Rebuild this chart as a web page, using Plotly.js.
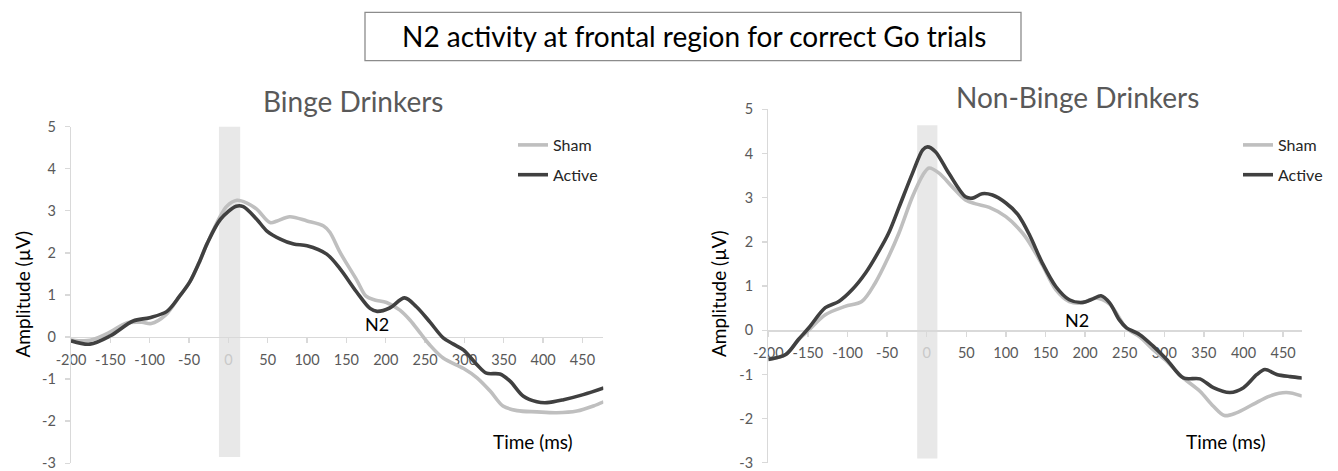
<!DOCTYPE html>
<html>
<head>
<meta charset="utf-8">
<script src="https://cdn.plot.ly/plotly-3.0.1.min.js"></script>
<style>html,body{margin:0;padding:0;background:#fff;}#chart{width:1338px;height:471px;}</style>
</head>
<body>
<div id="chart"></div>
<script>
// ---------- data ----------
const xTickVals = [-200,-150,-100,-50,0,50,100,150,200,250,300,350,400,450];
const xTickText = ['-200','-150','-100','-50','<span style="color:#c9c9c9">0</span>','50','100','150','200','250','300','350','400','450'];
const yTickVals = [-3,-2,-1,0,1,2,3,4,5];
const yTickText = ['-3','-2','-1','0','1','2','3','4','5'];

// Binge Drinkers
const bingeActiveT = [-200,-176,-150,-121,-100,-78,-62,-49,-36,-27,-10,10,19,36,49,66,83,100,125,142,163,180,189,205,224,239,256,273,286,299,316,328,345,358,375,392,405,426,451,477];
const bingeActiveV = [-0.09,-0.17,0.03,0.38,0.46,0.61,0.97,1.31,1.82,2.22,2.80,3.11,3.10,2.80,2.52,2.33,2.21,2.17,1.97,1.62,1.07,0.68,0.61,0.69,0.93,0.72,0.36,-0.02,-0.17,-0.31,-0.66,-0.86,-0.88,-1.05,-1.41,-1.54,-1.56,-1.49,-1.37,-1.21];
const bingeShamT = [-200,-176,-150,-130,-110,-98,-80,-62,-49,-36,-27,-10,-2,11,23,36,53,62,78,100,121,129,142,163,175,186,201,218,231,244,256,273,299,316,333,349,367,392,417,443,464,477];
const bingeShamV = [-0.07,-0.08,0.12,0.33,0.35,0.32,0.52,0.97,1.31,1.82,2.22,2.88,3.11,3.25,3.19,3.04,2.72,2.76,2.86,2.76,2.64,2.49,2.01,1.36,0.97,0.88,0.82,0.64,0.40,0.09,-0.19,-0.50,-0.75,-0.97,-1.29,-1.64,-1.75,-1.78,-1.80,-1.76,-1.64,-1.54];

// Non-Binge Drinkers
const nonActiveT = [-200,-178,-162,-149,-128,-111,-94,-77,-60,-48,-35,-18,-5,1,11,28,49,58,70,83,100,115,130,146,163,180,197,210,220,231,243,252,269,286,303,324,345,362,383,400,417,427,442,459,474];
const nonActiveV = [-0.66,-0.55,-0.21,0.05,0.51,0.65,0.92,1.30,1.80,2.20,2.78,3.55,4.08,4.15,4.04,3.55,3.02,2.99,3.09,3.06,2.88,2.62,2.15,1.52,0.99,0.69,0.63,0.71,0.78,0.62,0.24,0.06,-0.10,-0.36,-0.66,-1.08,-1.10,-1.30,-1.41,-1.30,-1.00,-0.89,-1.00,-1.05,-1.08];
const nonShamT = [-200,-178,-162,-149,-128,-103,-82,-65,-48,-35,-18,-5,3,16,32,49,62,79,100,121,130,146,163,180,197,213,231,252,269,286,303,324,345,362,376,391,412,433,454,474];
const nonShamV = [-0.66,-0.55,-0.22,0.0,0.35,0.54,0.65,1.07,1.67,2.20,3.02,3.51,3.67,3.55,3.25,2.95,2.86,2.78,2.57,2.20,1.97,1.48,0.92,0.65,0.62,0.73,0.59,0.05,-0.15,-0.44,-0.70,-1.08,-1.38,-1.72,-1.93,-1.87,-1.68,-1.49,-1.41,-1.49];

// shaded stimulus band [start, end, bottom, top]
const bingeBand = [-12, 15, -2.85, 5.03];
const nonBand = [-12, 13.5, -2.9, 4.64];

// ---------- layout helpers ----------
const W = 1338, H = 471;
const px = x => x / W;
const py = y => 1 - y / H;
const FONT = 'Lato, "Open Sans", sans-serif';
const SHAM = '#bfbfbf', ACTIVE = '#404040', AXC = '#d9d9d9', TICKC = '#595959';

const yRange = [-3, 5];
const d1y = [py(463.2), py(126.7)];
const d2y = [py(462.8), py(109.3)];
const zeroPos = d => d[0] + (0 - yRange[0]) / (yRange[1] - yRange[0]) * (d[1] - d[0]);

function xAxis(domain, range, pos) {
  return {domain, range, anchor: 'free', position: pos, showline: true, linecolor: AXC, linewidth: 1.3,
    ticks: 'outside', ticklen: 5, tickcolor: AXC, tickwidth: 1.3, tickvals: xTickVals, ticktext: xTickText,
    tickfont: {family: FONT, size: 14.5, color: TICKC}, ticklabelstandoff: 4, ticklabeloverflow: 'allow',
    showgrid: false, zeroline: false, layer: 'below traces', fixedrange: true};
}
function yAxis(domain, anchor) {
  return {domain, range: yRange, anchor, showline: true, linecolor: AXC, linewidth: 1.3,
    ticks: 'outside', ticklen: 5, tickcolor: AXC, tickwidth: 1.3, tickvals: yTickVals, ticktext: yTickText,
    tickfont: {family: FONT, size: 14.5, color: TICKC}, ticklabelstandoff: 6, ticklabeloverflow: 'allow',
    showgrid: false, zeroline: false, fixedrange: true};
}

const traces = [
  {x: bingeShamT, y: bingeShamV, name: 'Sham', legendgroup: 'a', legend: 'legend', xaxis: 'x', yaxis: 'y', mode: 'lines', line: {color: SHAM, width: 3.6, shape: 'spline', smoothing: 0.9}},
  {x: bingeActiveT, y: bingeActiveV, name: 'Active', legendgroup: 'b', legend: 'legend', xaxis: 'x', yaxis: 'y', mode: 'lines', line: {color: ACTIVE, width: 3.6, shape: 'spline', smoothing: 0.9}},
  {x: nonShamT, y: nonShamV, name: 'Sham', legendgroup: 'c', legend: 'legend2', xaxis: 'x2', yaxis: 'y2', mode: 'lines', line: {color: SHAM, width: 3.6, shape: 'spline', smoothing: 0.9}},
  {x: nonActiveT, y: nonActiveV, name: 'Active', legendgroup: 'd', legend: 'legend2', xaxis: 'x2', yaxis: 'y2', mode: 'lines', line: {color: ACTIVE, width: 3.6, shape: 'spline', smoothing: 0.9}}
];

const legendBase = {xanchor: 'left', yanchor: 'top', bgcolor: 'rgba(0,0,0,0)', borderwidth: 0,
  font: {family: FONT, size: 16, color: '#262626'}, traceorder: 'grouped', tracegroupgap: 6};

const txt = (text, x, y, size, color, extra) => Object.assign({text, x, y, xref: 'paper', yref: 'paper',
  showarrow: false, xanchor: 'center', yanchor: 'middle', font: {family: FONT, size, color}}, extra || {});

const layout = {
  width: W, height: H, margin: {l: 0, r: 0, t: 0, b: 0},
  paper_bgcolor: '#fff', plot_bgcolor: 'rgba(0,0,0,0)',
  font: {family: FONT},
  xaxis: xAxis([px(71), px(603.3)], [-200, 476.5], zeroPos(d1y)),
  yaxis: yAxis(d1y, 'x'),
  xaxis2: xAxis([px(768.3), px(1301.7)], [-200, 473.5], zeroPos(d2y)),
  yaxis2: yAxis(d2y, 'x2'),
  legend: Object.assign({}, legendBase, {x: px(513), y: py(128)}),
  legend2: Object.assign({}, legendBase, {x: px(1238), y: py(128)}),
  shapes: [
    {type: 'rect', xref: 'x', yref: 'y', x0: bingeBand[0], x1: bingeBand[1], y0: bingeBand[2], y1: bingeBand[3], fillcolor: '#e8e8e8', line: {width: 0}, layer: 'below'},
    {type: 'rect', xref: 'x2', yref: 'y2', x0: nonBand[0], x1: nonBand[1], y0: nonBand[2], y1: nonBand[3], fillcolor: '#e8e8e8', line: {width: 0}, layer: 'below'},
    {type: 'rect', xref: 'paper', yref: 'paper', x0: px(365), x1: px(1021), y0: py(60.7), y1: py(12.3), line: {color: '#8c8c8c', width: 1.3}, fillcolor: 'rgba(0,0,0,0)'}
  ],
  annotations: [
    txt('N2 activity at frontal region for correct Go trials', px(693.5), py(36), 28, '#000'),
    txt('Binge Drinkers', px(353), py(101), 28, '#595959'),
    txt('Non-Binge Drinkers', px(1077.5), py(97), 28, '#595959'),
    txt('Amplitude (µV)', px(21.5), py(294), 19, '#000', {textangle: -90}),
    txt('Amplitude (µV)', px(718), py(294), 19, '#000', {textangle: -90}),
    txt('Time (ms)', px(532.5), py(441), 19, '#000'),
    txt('Time (ms)', px(1225.5), py(441.5), 19, '#000'),
    txt('N2', 188.6, 0.30, 18, '#000', {xref: 'x', yref: 'y'}),
    txt('N2', 189.9, 0.24, 18, '#000', {xref: 'x2', yref: 'y2'})
  ]
};

Plotly.newPlot('chart', traces, layout, {displayModeBar: false, staticPlot: true});
</script>
</body>
</html>
